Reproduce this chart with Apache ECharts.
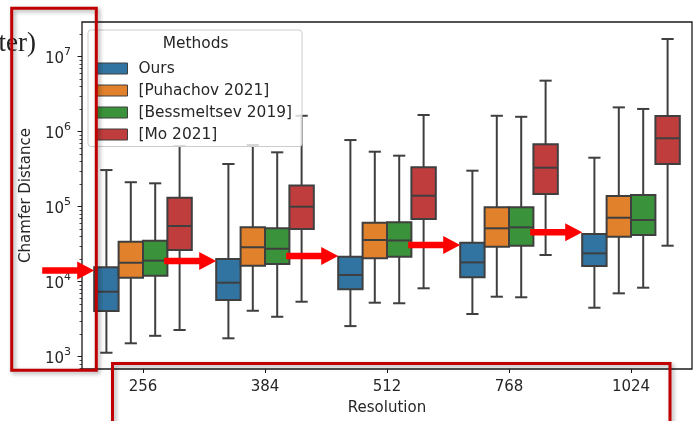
<!DOCTYPE html>
<html>
<head>
<meta charset="utf-8">
<script src="https://cdn.jsdelivr.net/npm/echarts@6/dist/echarts.min.js"></script>
<style>
  html, body { margin: 0; padding: 0; background: #ffffff; }
  #chart { width: 694px; height: 421px; }
</style>
</head>
<body>
<div id="chart"></div>
<script>
// Categories and methods
const resolutions = ['256', '384', '512', '768', '1024'];
const methodNames = ['Ours', '[Puhachov 2021]', '[Bessmeltsev 2019]', '[Mo 2021]'];
const methodColors = ['#3274a1', '#e1812c', '#3a923a', '#c03d3e'];

// Chamfer distance per resolution: [min, q1, median, q3, max]
const oursStats = [
  [1.13e3, 4.07e3, 7.36e3, 1.56e4, 3.08e5],
  [1.76e3, 5.70e3, 9.70e3, 2.01e4, 3.71e5],
  [2.56e3, 7.92e3, 1.23e4, 2.15e4, 7.74e5],
  [3.71e3, 1.15e4, 1.81e4, 3.31e4, 3.02e5],
  [4.50e3, 1.62e4, 2.39e4, 4.33e4, 4.50e5]
];
const puhachovStats = [
  [1.51e3, 1.13e4, 1.79e4, 3.41e4, 2.12e5],
  [4.10e3, 1.63e4, 2.88e4, 5.31e4, 6.65e5],
  [5.25e3, 2.05e4, 3.60e4, 6.12e4, 5.41e5],
  [6.31e3, 2.93e4, 5.15e4, 9.82e4, 1.63e6],
  [7.00e3, 3.98e4, 7.13e4, 1.39e5, 2.11e6]
];
const bessmeltsevStats = [
  [1.90e3, 1.20e4, 1.91e4, 3.52e4, 2.05e5],
  [3.41e3, 1.72e4, 2.75e4, 5.15e4, 5.31e5],
  [5.16e3, 2.15e4, 3.55e4, 6.20e4, 4.79e5],
  [6.20e3, 3.02e4, 5.31e4, 9.82e4, 1.58e6],
  [8.32e3, 4.20e4, 6.65e4, 1.43e5, 2.01e6]
];
const moStats = [
  [2.27e3, 2.65e4, 5.53e4, 1.32e5, 6.44e5],
  [5.41e3, 5.04e4, 1.00e5, 1.91e5, 1.63e6],
  [8.17e3, 6.86e4, 1.40e5, 3.35e5, 1.67e6],
  [2.27e4, 1.48e5, 3.31e5, 6.79e5, 4.79e6],
  [3.02e4, 3.71e5, 8.17e5, 1.62e6, 1.72e7]
];

// Decade ticks (exponents) and value range of the log axis
const yDecades = [3, 4, 5, 6, 7];
const yRange = [6.86e2, 2.90e7];

// Heights of the annotation arrows pointing at each "Ours" box
const arrowLevels = [1.41e4, 1.89e4, 2.20e4, 3.08e4, 4.56e4];

const FONT = 'DejaVu Sans';
const INK = '#262626';
const EDGE = '#3f3f3f';
const allStats = [oursStats, puhachovStats, bessmeltsevStats, moStats];
const lg = v => Math.log10(v);
const yMin = lg(yRange[0]);
const yMax = lg(yRange[1]);

// minor ticks at 2..9 x 10^n
const minorTicks = [];
for (let e = 2; e <= 7; e++) {
  for (let k = 2; k <= 9; k++) {
    const t = e + Math.log10(k);
    if (t > yMin && t < yMax) minorTicks.push(t);
  }
}

function boxSeries(m) {
  return {
    type: 'custom',
    name: methodNames[m],
    itemStyle: { color: methodColors[m], borderColor: EDGE, borderWidth: 1 },
    data: allStats[m].map((s, i) => [i].concat(s.map(lg))),
    encode: { x: 0, y: [1, 2, 3, 4, 5] },
    clip: false,
    renderItem(params, api) {
      const cat = api.value(0);
      const band = api.size([1, 0])[0];
      const w = band * 0.8 / 4;
      const cx = api.coord([cat, api.value(3)])[0] + (m - 1.5) * w;
      const py = k => api.coord([cat, api.value(k)])[1];
      const yLo = py(1), yQ1 = py(2), yMed = py(3), yQ3 = py(4), yHi = py(5);
      const ls = { stroke: EDGE, lineWidth: 2 };
      return {
        type: 'group',
        children: [
          { type: 'line', shape: { x1: cx, y1: yQ3, x2: cx, y2: yHi }, style: ls },
          { type: 'line', shape: { x1: cx, y1: yQ1, x2: cx, y2: yLo }, style: ls },
          { type: 'line', shape: { x1: cx - w / 4, y1: yHi, x2: cx + w / 4, y2: yHi }, style: ls },
          { type: 'line', shape: { x1: cx - w / 4, y1: yLo, x2: cx + w / 4, y2: yLo }, style: ls },
          { type: 'rect', shape: { x: cx - w / 2, y: yQ3, width: w, height: yQ1 - yQ3 },
            style: { fill: methodColors[m], stroke: EDGE, lineWidth: 2 } },
          { type: 'line', shape: { x1: cx - w / 2, y1: yMed, x2: cx + w / 2, y2: yMed }, style: ls }
        ]
      };
    }
  };
}

const chart = echarts.init(document.getElementById('chart'), null, { renderer: 'canvas' });

chart.setOption({
  animation: false,
  backgroundColor: '#ffffff',
  textStyle: { fontFamily: FONT },
  grid: {
    left: 82, right: 2, top: 22, bottom: 52,
    show: true, borderColor: '#1a1a1a', borderWidth: 1.3, backgroundColor: 'transparent'
  },
  xAxis: {
    type: 'category',
    data: resolutions,
    name: 'Resolution',
    nameLocation: 'middle',
    nameGap: 32,
    nameTextStyle: { fontFamily: FONT, fontSize: 15, color: INK },
    axisLine: { show: false },
    axisTick: { show: true, alignWithLabel: true, length: 4, lineStyle: { color: '#1a1a1a', width: 1 } },
    axisLabel: { margin: 11, fontFamily: FONT, fontSize: 15, color: INK },
    splitLine: { show: false }
  },
  yAxis: [
    {
      type: 'value',
      min: yMin, max: yMax,
      name: 'Chamfer Distance',
      nameLocation: 'middle',
      nameGap: 46,
      nameTextStyle: { fontFamily: FONT, fontSize: 15, color: INK },
      axisLine: { show: false },
      splitLine: { show: false },
      axisTick: { show: true, length: 4.5, customValues: yDecades, lineStyle: { color: '#1a1a1a', width: 1 } },
      axisLabel: {
        customValues: yDecades,
        margin: 11,
        formatter: v => '{b|10}{s|' + v + '}',
        rich: {
          b: { fontFamily: FONT, fontSize: 15, color: INK, lineHeight: 20, verticalAlign: 'bottom' },
          s: { fontFamily: FONT, fontSize: 11, color: INK, lineHeight: 11, verticalAlign: 'top' }
        }
      }
    },
    {
      type: 'value',
      min: yMin, max: yMax,
      position: 'left',
      axisLine: { show: false },
      splitLine: { show: false },
      axisLabel: { show: false },
      axisTick: { show: true, length: 2.5, customValues: minorTicks, lineStyle: { color: '#1a1a1a', width: 0.8 } }
    }
  ],
  legend: {
    orient: 'vertical',
    left: 88, top: 30,
    data: methodNames.map(n => ({ name: n, icon: 'rect' })),
    itemWidth: 32, itemHeight: 11, itemGap: 7,
    padding: [31, 10, 4.5, 7],
    backgroundColor: 'rgba(255,255,255,0.8)',
    borderColor: '#cccccc', borderWidth: 1, borderRadius: 3,
    textStyle: { fontFamily: FONT, fontSize: 15.4, color: INK, padding: [0, 0, 0, 6] },
    itemStyle: { borderColor: EDGE, borderWidth: 1 },
    selectedMode: false
  },
  series: [0, 1, 2, 3].map(boxSeries)
});

// Annotation layer: arrows to the "Ours" boxes, highlight frames, clipped caption
function drawOverlay() {
  const c0 = chart.convertToPixel({ gridIndex: 0 }, [0, yMin])[0];
  const c1 = chart.convertToPixel({ gridIndex: 0 }, [1, yMin])[0];
  const band = c1 - c0;
  const w = band * 0.8 / 4;
  const arrowLen = 52, headLen = 17, headHalf = 9, shaftHalf = 3.3;
  const graphics = [];

  arrowLevels.forEach((lvl, i) => {
    const p = chart.convertToPixel({ gridIndex: 0 }, [i, lg(lvl)]);
    const tipX = p[0] - 2 * w;
    const y = p[1];
    const tailX = tipX - arrowLen;
    const neckX = tipX - headLen;
    graphics.push({
      type: 'polygon', z: 50, silent: true,
      shape: { points: [
        [tailX, y - shaftHalf], [neckX, y - shaftHalf], [neckX, y - headHalf],
        [tipX, y], [neckX, y + headHalf], [neckX, y + shaftHalf], [tailX, y + shaftHalf]
      ] },
      style: { fill: '#ff0000' }
    });
  });

  const frame = {
    fill: 'none', stroke: '#c00000', lineWidth: 3,
    shadowBlur: 4, shadowOffsetX: 2, shadowOffsetY: 2, shadowColor: 'rgba(0,0,0,0.35)'
  };
  graphics.push({
    type: 'rect', z: 100, silent: true,
    shape: { x: 11.7, y: 8.3, width: 84.6, height: 362 },
    style: frame
  });
  graphics.push({
    type: 'rect', z: 100, silent: true,
    shape: { x: 112.5, y: 363.5, width: 557.5, height: 70 },
    style: frame
  });

  graphics.push({
    type: 'text', z: 20, silent: true,
    x: 195.7, y: 43.5,
    style: { text: 'Methods', fontFamily: FONT, fontSize: 15.4, fill: INK, align: 'center', verticalAlign: 'middle' }
  });
  graphics.push({
    type: 'text', z: 20, silent: true,
    x: 36, y: 44,
    style: { text: 'ter)', fontFamily: 'Liberation Serif', fontSize: 27, fill: '#222222', align: 'right', verticalAlign: 'middle' }
  });

  chart.setOption({ graphic: graphics });
}
drawOverlay();
</script>
</body>
</html>
